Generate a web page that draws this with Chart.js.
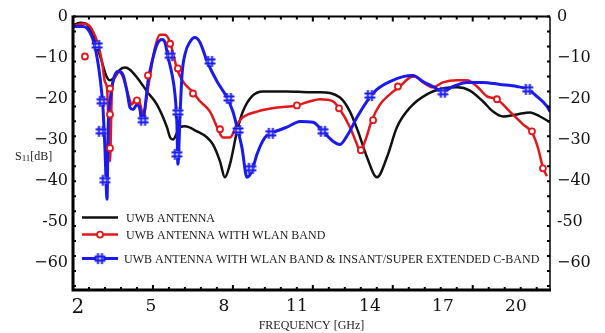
<!DOCTYPE html>
<html><head><meta charset="utf-8">
<script src="https://cdn.jsdelivr.net/npm/chart.js@4/dist/chart.umd.min.js"></script>
<style>html,body{margin:0;padding:0;background:#fff;}</style>
</head><body>
<canvas id="c" width="605" height="333"></canvas>
<script>
// ---- data ----
const xTicks = [2, 5, 8, 11, 14, 17, 20];
const yTicks = [0, -10, -20, -30, -40, -50, -60];

// UWB ANTENNA (black)
const uwbX = [1.80,2.09,2.33,2.62,2.91,3.16,3.32,3.53,3.73,3.94,4.14,4.43,4.84,5.25,5.66,5.79,5.91,6.20,6.40,6.89,7.31,7.55,7.84,8.04,8.25,8.54,8.78,9.15,9.61,10.59,11.54,11.95,12.77,13.18,13.51,13.88,14.29,14.70,15.11,15.65,16.34,17.00,17.58,18.11,18.64,19.06,19.47,20.04,20.58,20.99,21.40];
const uwbY = [-2.2,-1.5,-1.7,-4.6,-9.5,-14.3,-15.5,-14.6,-12.9,-12.4,-12.9,-14.8,-18.2,-21.4,-26.9,-29.4,-29.9,-26.9,-26.7,-27.9,-29.4,-31.1,-35.2,-39.1,-35.9,-27.9,-23.1,-19.4,-18.2,-18.2,-18.4,-18.4,-19.7,-23.1,-27.9,-34.2,-39.1,-34.2,-26.9,-22.1,-18.9,-17.5,-17.2,-18.0,-20.6,-23.1,-24.3,-23.8,-23.3,-24.3,-25.7];

// UWB ANTENNA WITH WLAN BAND (red)
const wlanX = [1.80,2.21,2.50,2.79,2.99,3.11,3.20,3.32,3.40,3.53,3.65,3.85,4.06,4.22,4.35,4.47,4.63,4.68,4.80,4.96,5.17,5.37,5.58,5.79,5.99,6.11,6.32,6.73,7.02,7.43,7.72,7.96,8.25,8.54,8.78,9.36,10.18,11.00,11.54,11.95,12.48,12.77,13.18,13.47,13.59,13.80,14.08,14.41,14.82,15.23,15.65,15.85,16.18,16.59,17.00,17.58,17.99,18.40,18.81,19.22,19.75,20.29,20.66,20.90,21.11,21.27];
const wlanY = [-2.4,-1.7,-2.4,-6.1,-10.9,-15.8,-17.5,-35.2,-18.0,-14.8,-13.3,-14.6,-18.9,-21.4,-20.1,-20.1,-23.1,-25.5,-20.6,-14.6,-7.5,-4.4,-4.4,-6.3,-10.9,-13.3,-15.8,-18.4,-20.6,-23.1,-26.9,-29.4,-29.4,-26.2,-24.5,-23.1,-22.1,-21.6,-20.6,-20.1,-20.6,-22.6,-26.9,-31.1,-32.8,-30.3,-25.2,-21.4,-18.9,-17.0,-14.8,-14.6,-16.0,-17.2,-16.0,-15.5,-15.5,-17.0,-19.4,-20.1,-23.1,-26.2,-28.2,-31.8,-36.7,-38.8];
const wlanMarkX = [2.29,3.32,3.32,3.32,4.43,4.88,5.79,6.11,6.73,7.84,11.00,12.73,13.63,14.13,15.15,19.22,20.66,21.11];
const wlanMarkY = [-9.7,-17.5,-23.8,-32.0,-20.4,-14.3,-6.6,-12.6,-18.7,-27.4,-21.6,-22.3,-32.5,-25.2,-17.0,-20.1,-27.9,-36.9];

// UWB ANTENNA WITH WLAN BAND & INSANT/SUPER EXTENDED C-BAND (blue)
const bandX = [1.80,2.21,2.50,2.70,2.91,3.03,3.11,3.20,3.24,3.32,3.44,3.65,3.85,4.02,4.14,4.27,4.43,4.55,4.63,4.76,4.88,5.05,5.25,5.46,5.58,5.70,5.87,5.99,6.07,6.11,6.20,6.28,6.40,6.61,6.81,7.02,7.31,7.72,8.13,8.37,8.54,8.74,8.95,9.15,9.36,9.69,10.02,10.59,11.13,11.66,12.07,12.48,12.77,13.10,13.47,13.88,14.29,14.82,15.36,15.77,16.18,16.59,17.00,17.41,17.99,18.64,19.34,20.04,20.49,20.86,21.27,21.40];
const bandY = [-2.4,-2.4,-3.9,-7.3,-14.8,-22.1,-31.8,-44.4,-27.9,-20.6,-15.8,-13.3,-14.1,-18.2,-22.1,-22.6,-21.4,-22.6,-25.7,-22.1,-15.8,-10.9,-6.8,-5.6,-6.3,-9.7,-14.1,-18.9,-26.2,-35.9,-23.8,-14.1,-9.2,-6.1,-5.1,-6.3,-10.9,-15.8,-19.7,-23.1,-26.9,-31.8,-39.1,-37.6,-33.5,-29.4,-28.2,-26.9,-25.5,-25.7,-27.9,-30.3,-31.1,-28.6,-24.5,-20.6,-17.7,-15.8,-14.6,-14.3,-15.8,-17.0,-18.2,-17.0,-16.0,-16.0,-16.5,-17.0,-17.7,-19.4,-21.8,-23.1];
const bandMarkX = [2.79,2.99,2.95,3.11,4.68,5.79,6.11,6.07,7.43,8.21,8.58,9.11,9.93,12.07,14.00,17.00,20.49];
const bandMarkY = [-7.0,-20.6,-27.9,-39.8,-25.2,-9.5,-23.3,-33.5,-10.9,-19.9,-27.7,-36.9,-28.4,-27.9,-19.2,-18.4,-17.7];

const seriesNames = ['UWB ANTENNA','UWB ANTENNA WITH WLAN BAND','UWB ANTENNA WITH WLAN BAND & INSANT/SUPER EXTENDED C-BAND'];

// ---- styling ----
const BLACK = '#111111', RED = '#e3161b', BLUE = '#1a1aee';
const zip = (xs, ys) => xs.map((x, i) => ({x, y: ys[i]}));

function hashMarker(color) {
  const c = document.createElement('canvas');
  c.width = 13; c.height = 13;
  const g = c.getContext('2d');
  g.fillStyle = '#fff'; g.fillRect(3, 3, 7, 7);
  g.strokeStyle = color; g.lineWidth = 2;
  g.beginPath();
  g.moveTo(1, 4.5); g.lineTo(12, 4.5); g.moveTo(1, 8.5); g.lineTo(12, 8.5);
  g.moveTo(4.5, 1); g.lineTo(4.5, 12); g.moveTo(8.5, 1); g.lineTo(8.5, 12);
  g.stroke();
  return c;
}
const HASH = hashMarker(BLUE);

const fmtY = v => v === -50 ? '-50' : (v < 0 ? '\u2212' + Math.abs(v) : String(v));

const framePlugin = {
  id: 'frame',
  afterDraw(chart) {
    const {ctx, chartArea: a, scales} = chart;
    ctx.save();
    ctx.strokeStyle = '#000';
    // minor ticks
    ctx.lineWidth = 2;
    const xs = scales.x, ys = scales.y;
    const xStep = 0.657;
    for (let i = 0; xs.min + i * xStep <= xs.max + 1e-6; i++) {
      const px = xs.getPixelForValue(xs.min + i * xStep);
      const len = i % 5 === 0 ? 5 : 3;
      ctx.beginPath();
      ctx.moveTo(px, a.bottom); ctx.lineTo(px, a.bottom - len);
      ctx.moveTo(px, a.top); ctx.lineTo(px, a.top + len);
      ctx.stroke();
    }
    const yStep = 3.64;
    for (let i = 0; -i * yStep >= ys.min; i++) {
      const py = ys.getPixelForValue(-i * yStep);
      ctx.beginPath();
      ctx.moveTo(a.left, py); ctx.lineTo(a.left + 3, py);
      ctx.moveTo(a.right, py); ctx.lineTo(a.right - 3, py);
      ctx.stroke();
    }
    // frame
    ctx.lineWidth = 2;
    ctx.beginPath(); ctx.moveTo(a.left, a.top); ctx.lineTo(a.right, a.top); ctx.stroke();
    ctx.lineWidth = 1.5;
    ctx.beginPath(); ctx.moveTo(a.right, a.top); ctx.lineTo(a.right, a.bottom); ctx.stroke();
    ctx.lineWidth = 3;
    ctx.beginPath(); ctx.moveTo(a.left, a.top - 1); ctx.lineTo(a.left, a.bottom); ctx.lineTo(a.right + 1, a.bottom); ctx.stroke();

    // y label S11[dB]
    ctx.fillStyle = '#222';
    ctx.textBaseline = 'alphabetic';
    ctx.textAlign = 'left';
    let x = 15, y = 160;
    ctx.font = '12px "Liberation Serif"';
    ctx.fillText('S', x, y); x += ctx.measureText('S').width;
    ctx.font = '9px "Liberation Serif"';
    ctx.fillText('11', x, y + 1); x += ctx.measureText('11').width;
    ctx.font = '12px "Liberation Serif"';
    ctx.fillText('[dB]', x, y);

    // legend
    const rows = [
      {y: a.top + 201, color: BLACK, lw: 2.5, mark: null},
      {y: a.top + 218, color: RED, lw: 2.5, mark: 'circle'},
      {y: a.top + 242, color: BLUE, lw: 3, mark: 'hash'}
    ];
    rows.forEach((r, i) => {
      const x0 = a.left + 9, x1 = a.left + 45;
      ctx.strokeStyle = r.color; ctx.lineWidth = r.lw;
      ctx.beginPath(); ctx.moveTo(x0, r.y); ctx.lineTo(x1, r.y); ctx.stroke();
      const cx = (x0 + x1) / 2;
      if (r.mark === 'circle') {
        ctx.fillStyle = '#fff'; ctx.lineWidth = 1.8;
        ctx.beginPath(); ctx.arc(cx, r.y, 3, 0, Math.PI * 2); ctx.fill(); ctx.stroke();
      } else if (r.mark === 'hash') {
        ctx.drawImage(HASH, cx - 6.5, r.y - 6.5);
      }
      ctx.fillStyle = '#1a1a1a';
      ctx.font = '12px "Liberation Serif"';
      ctx.textBaseline = 'middle';
      ctx.fillText(seriesNames[i], a.left + 53 - (i === 2 ? 2 : 0), r.y + 1);
    });
    ctx.restore();
  }
};

const lineDs = (label, xs, ys, color, w, order) => ({
  label, data: zip(xs, ys), showLine: true, borderColor: color, backgroundColor: color,
  borderWidth: w, pointRadius: 0, cubicInterpolationMode: 'monotone', order
});

new Chart(document.getElementById('c'), {
  type: 'scatter',
  data: {
    datasets: [
      {label: 'blue markers', data: zip(bandMarkX, bandMarkY), showLine: false, pointStyle: HASH, pointRadius: 5, order: 0},
      {label: 'red markers', data: zip(wlanMarkX, wlanMarkY), showLine: false, pointStyle: 'circle', pointRadius: 3,
       pointBorderWidth: 1.8, pointBorderColor: RED, pointBackgroundColor: '#fff', order: 1},
      lineDs(seriesNames[2], bandX, bandY, BLUE, 3, 2),
      lineDs(seriesNames[1], wlanX, wlanY, RED, 2.5, 3),
      lineDs(seriesNames[0], uwbX, uwbY, BLACK, 2.5, 4)
    ]
  },
  options: {
    responsive: false, animation: false, devicePixelRatio: 1,
    layout: {padding: {top: 16, left: 0, right: 0, bottom: 0}},
    plugins: {legend: {display: false}, tooltip: {enabled: false}},
    scales: {
      x: {
        type: 'linear', min: 1.8, max: 21.4, position: 'bottom',
        afterBuildTicks: s => { s.ticks = xTicks.map(v => ({value: v})); },
        afterFit: s => { s.height = 43; },
        grid: {display: false, drawTicks: false}, border: {display: false},
        ticks: {
          padding: 6, color: '#111', autoSkip: false, maxRotation: 0,
          font: ctx => ({family: 'DejaVu Serif', size: (ctx.tick && ctx.tick.value === 2) ? 20 : 17}),
          callback: v => String(v)
        },
        title: {display: true, text: 'FREQUENCY [GHz]', color: '#222',
                font: {family: 'Liberation Serif', size: 12}, padding: {top: 0, bottom: 0}}
      },
      y: {
        type: 'linear', min: -66.5, max: 0, position: 'left',
        afterBuildTicks: s => { s.ticks = yTicks.map(v => ({value: v})); },
        afterFit: s => { s.width = 73; },
        grid: {display: false, drawTicks: false}, border: {display: false},
        ticks: {padding: 5, color: '#111', font: {family: 'DejaVu Serif', size: 16}, callback: fmtY}
      },
      y2: {
        type: 'linear', min: -66.5, max: 0, position: 'right',
        afterBuildTicks: s => { s.ticks = yTicks.map(v => ({value: v})); },
        afterFit: s => { s.width = 55; },
        grid: {display: false, drawTicks: false}, border: {display: false},
        ticks: {padding: 7, color: '#111', font: {family: 'DejaVu Serif', size: 16}, callback: fmtY}
      }
    }
  },
  plugins: [framePlugin]
});
</script>
</body></html>
